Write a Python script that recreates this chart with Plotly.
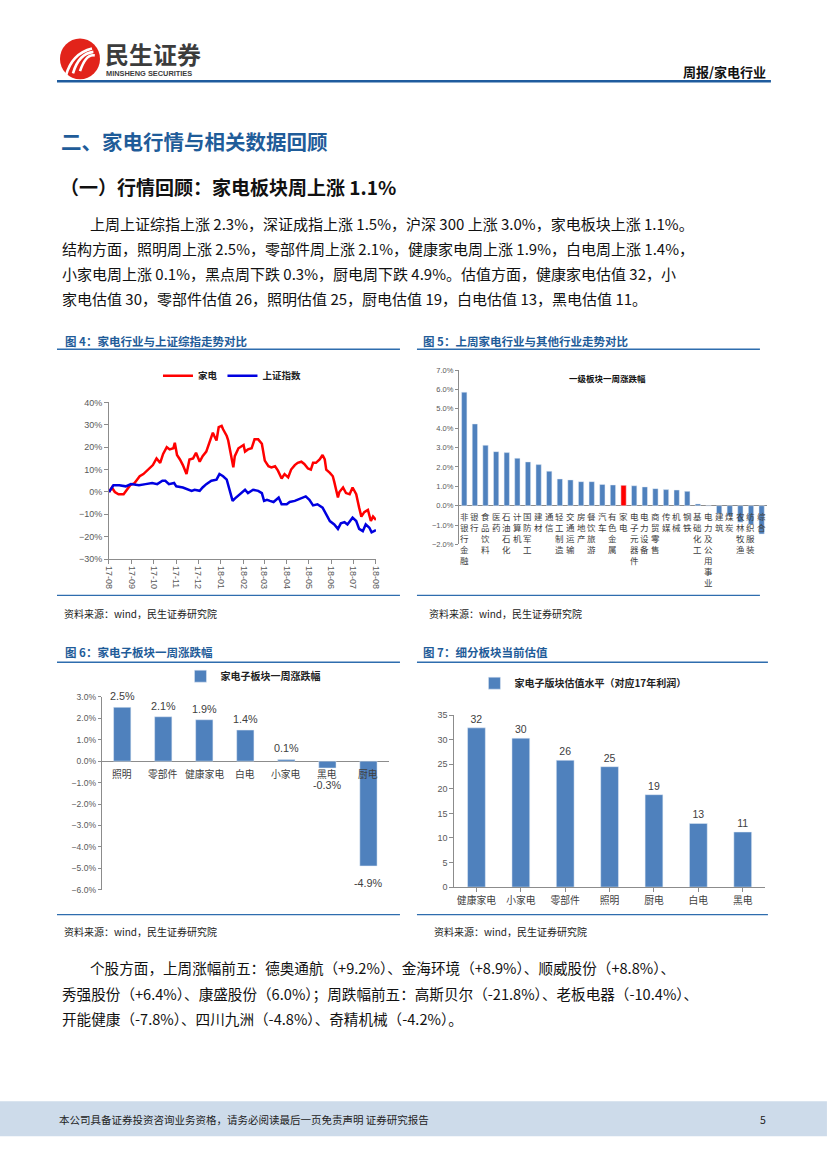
import plotly.graph_objects as go

W, H = 827, 1169
# small correction so that page coordinates of the reference land at the same pixels
OX, SX, OY, SY = 5.0, 0.988, 3.5, 0.9934
def fx(x): return (x - OX) / SX / W
def fy(y): return 1 - (y - OY) / SY / H

CJK = "Noto Sans CJK SC"
BLUE_T = "#1F5C99"
BAR = "#4F81BD"
GRAY = "#595959"
AXC = "#8C8C8C"

# ---------------- data ----------------
# Fig 4: 家电 vs 上证指数 (cumulative %)
jd_dates = ["2017-08-01","2017-08-05","2017-08-09","2017-08-14","2017-08-21","2017-08-25","2017-08-30",
            "2017-09-05","2017-09-12","2017-09-17","2017-09-24","2017-09-30","2017-10-05","2017-10-10",
            "2017-10-14","2017-10-19","2017-10-23","2017-10-28","2017-10-30","2017-11-02","2017-11-06",
            "2017-11-10","2017-11-15","2017-11-19","2017-11-24","2017-11-28","2017-12-03","2017-12-07",
            "2017-12-12","2017-12-16","2017-12-21","2017-12-23","2017-12-26","2017-12-29","2018-01-02",
            "2018-01-04","2018-01-09","2018-01-11","2018-01-13","2018-01-16","2018-01-18","2018-01-20",
            "2018-01-25","2018-02-01","2018-02-03","2018-02-07","2018-02-12","2018-02-16","2018-02-21",
            "2018-02-26","2018-02-28","2018-03-02","2018-03-07","2018-03-11","2018-03-16","2018-03-20",
            "2018-03-25","2018-03-29","2018-04-03","2018-04-07","2018-04-12","2018-04-16","2018-04-21",
            "2018-04-25","2018-04-30","2018-05-04","2018-05-07","2018-05-11","2018-05-16","2018-05-20",
            "2018-05-23","2018-05-25","2018-05-30","2018-06-03","2018-06-05","2018-06-10","2018-06-12",
            "2018-06-17","2018-06-21","2018-06-26","2018-06-30","2018-07-05","2018-07-09","2018-07-12",
            "2018-07-16","2018-07-21","2018-07-25","2018-07-28","2018-08-01"]
jd_vals = [0, 2, 0, -1, -1, 1, 3,
           4, 7, 8, 10, 12, 15, 13,
           17, 20, 19, 19.5, 22, 16.5, 14.5,
           12, 8, 14.5, 15, 17.5, 13.5, 16,
           18, 21.5, 26.5, 25, 23, 29, 29.5,
           28, 25, 23, 19, 13, 11, 16,
           19.5, 21, 18, 19, 19.5, 23.5, 23.5,
           21.5, 17.5, 14, 11.5, 11, 11.5, 9.5,
           6, 8, 6.5, 10, 12, 13, 13.5,
           12.5, 10.5, 10, 13, 13, 14.5, 16.5,
           14.5, 10, 8.5, 7, 4.5, -2.5, 0,
           2, -0.5, -1, 2, -1, -7, -11,
           -9, -8, -13, -11, -12.5]

sh_dates = ["2017-08-01","2017-08-07","2017-08-15","2017-08-24","2017-08-31","2017-09-11","2017-09-20",
            "2017-09-29","2017-10-06","2017-10-13","2017-10-17","2017-10-22","2017-10-29","2017-11-01",
            "2017-11-10","2017-11-17","2017-11-22","2017-11-26","2017-12-03","2017-12-07","2017-12-12",
            "2017-12-19","2017-12-26","2017-12-30","2018-01-04","2018-01-09","2018-01-13","2018-01-17",
            "2018-01-20","2018-01-27","2018-02-03","2018-02-07","2018-02-14","2018-02-21","2018-02-26",
            "2018-03-01","2018-03-05","2018-03-09","2018-03-14","2018-03-21","2018-03-25","2018-04-01",
            "2018-04-05","2018-04-12","2018-04-16","2018-04-23","2018-04-27","2018-05-02","2018-05-07",
            "2018-05-13","2018-05-20","2018-05-25","2018-05-30","2018-06-05","2018-06-10","2018-06-14",
            "2018-06-19","2018-06-23","2018-06-30","2018-07-05","2018-07-09","2018-07-14","2018-07-18",
            "2018-07-23","2018-07-26","2018-08-01"]
sh_vals = [0, 3, 3, 2.5, 3.5, 3, 3.5,
           4, 3.5, 5, 5, 3.5, 4, 2.5,
           2, 1, 0.5, 1, 0.5, 2, 3.5,
           5, 5.5, 8, 7, 5.5, 1, -4,
           -3, -1, 1, -0.5, 1, 0.5, -0.5,
           -4, -3.5, -4, -4.5, -2.5, -5.5, -5.5,
           -4.5, -4, -3.5, -2.5, -2, -3.5, -6,
           -5.5, -7, -10, -13, -14.5, -16.5, -14,
           -13.5, -14.5, -11.5, -13, -16.5, -17.5, -14.5,
           -16, -18, -17]

# Fig 5: 一级板块一周涨跌幅 (%)
ind_names = ["非银行金融","银行","食品饮料","医药","石油石化","计算机","国防军工","建材","通信",
             "轻工制造","交通运输","房地产","餐饮旅游","汽车","有色金属","家电","电子元器件",
             "电力设备","商贸零售","传媒","机械","钢铁","基础化工","电力及公用事业","建筑","煤炭",
             "农林牧渔","纺织服装","综合"]
ind_vals = [5.86, 4.22, 3.12, 2.79, 2.74, 2.45, 2.26, 2.12, 1.78,
            1.38, 1.33, 1.24, 1.24, 1.10, 1.07, 1.05, 1.03,
            0.97, 0.88, 0.83, 0.81, 0.74, 0.09, -0.02, -0.40, -0.52,
            -0.85, -0.97, -1.46]
highlight = "家电"

# Fig 6: 家电子板块一周涨跌幅 (%)
sub_names = ["照明","零部件","健康家电","白电","小家电","黑电","厨电"]
sub_chg = [2.51, 2.07, 1.93, 1.45, 0.08, -0.32, -4.89]
sub_chg_labels = ["2.5%","2.1%","1.9%","1.4%","0.1%","-0.3%","-4.9%"]

# Fig 7: 家电子版块估值水平
val_names = ["健康家电","小家电","零部件","照明","厨电","白电","黑电"]
val_pe = [32.4, 30.3, 25.8, 24.5, 18.8, 12.95, 11.2]
val_labels = ["32","30","26","25","19","13","11"]

# ---------------- figure ----------------
fig = go.Figure()

fig.add_trace(go.Scatter(x=jd_dates, y=jd_vals, mode="lines", name="<b>家电</b>",
                         line=dict(color="#FF0000", width=2.5), xaxis="x", yaxis="y", legend="legend"))
fig.add_trace(go.Scatter(x=sh_dates, y=sh_vals, mode="lines", name="<b>上证指数</b>",
                         line=dict(color="#0000E0", width=2.5), xaxis="x", yaxis="y", legend="legend"))

fig.add_trace(go.Bar(x=ind_names, y=ind_vals, xaxis="x2", yaxis="y2", showlegend=False,
                     marker=dict(color=["#FF0000" if n == highlight else BAR for n in ind_names]),
                     width=0.5))

fig.add_trace(go.Bar(x=sub_names, y=sub_chg, xaxis="x3", yaxis="y3", name="<b>家电子板块一周涨跌幅</b>",
                     marker=dict(color=BAR), width=0.42, legend="legend2"))

fig.add_trace(go.Bar(x=val_names, y=val_pe, xaxis="x4", yaxis="y4",
                     name="<b>家电子版块估值水平（对应17年利润）</b>",
                     marker=dict(color=BAR), width=0.4, text=val_labels, textposition="outside",
                     constraintext="none",
                     textfont=dict(size=10.5, color="#404040", family="Liberation Sans"),
                     cliponaxis=False, legend="legend3"))

ax_common = dict(showline=True, linecolor=AXC, linewidth=1, ticks="outside", tickcolor=AXC,
                 ticklen=4, showgrid=False, zeroline=False)

fig.update_layout(
    width=W, height=H, margin=dict(l=0, r=0, t=0, b=0),
    paper_bgcolor="white", plot_bgcolor="rgba(0,0,0,0)",
    font=dict(family=CJK, color=GRAY),
    bargap=0.5,
    xaxis=dict(domain=[fx(109), fx(376)], anchor="y", type="date",
               range=["2017-08-01", "2018-08-01"], dtick="M1", tick0="2017-08-01",
               tickformat="%y-%m", tickangle=90,
               tickfont=dict(size=9, family="Liberation Sans", color=GRAY), **ax_common),
    yaxis=dict(domain=[fy(558.7), fy(401.7)], anchor="x", range=[-30, 40], dtick=10,
               ticksuffix="%", tickfont=dict(size=9, family="Liberation Sans", color=GRAY), **ax_common),
    xaxis2=dict(domain=[fx(459), fx(767)], anchor="y2", type="category", range=[-0.5, 28.5],
                showticklabels=False, showline=False, showgrid=False, zeroline=False, ticks=""),
    yaxis2=dict(domain=[fy(544), fy(369.3)], anchor="x2", range=[-2, 7], dtick=1, tickformat=".1f",
                ticksuffix="%", showline=True, linecolor=AXC, ticks="outside", tickcolor=AXC, ticklen=3,
                showgrid=False, zeroline=True, zerolinecolor=AXC, zerolinewidth=1,
                tickfont=dict(size=7.5, family="Liberation Sans", color=GRAY)),
    xaxis3=dict(domain=[fx(101.7), fx(389)], anchor="y3", type="category", range=[-0.5, 6.5],
                showticklabels=False, showline=False, showgrid=False, zeroline=False, ticks=""),
    yaxis3=dict(domain=[fy(890), fy(696.7)], anchor="x3", range=[-6, 3], dtick=1, tickformat=".1f",
                ticksuffix="%", showline=True, linecolor=AXC, ticks="outside", tickcolor=AXC, ticklen=3,
                showgrid=False, zeroline=True, zerolinecolor=AXC, zerolinewidth=1,
                tickfont=dict(size=8.5, family="Liberation Sans", color=GRAY)),
    xaxis4=dict(domain=[fx(454.3), fx(765)], anchor="y4", type="category", range=[-0.5, 6.5],
                tickfont=dict(size=9.8, family=CJK, color="#404040"), **ax_common),
    yaxis4=dict(domain=[fy(887.3), fy(715)], anchor="x4", range=[0, 35], dtick=5,
                tickfont=dict(size=9, family="Liberation Sans", color=GRAY), **ax_common),
    legend=dict(orientation="h", x=fx(232), xanchor="center", y=fy(375), yanchor="middle",
                font=dict(size=9.5, color="#222222", family=CJK), bgcolor="rgba(0,0,0,0)",
                itemwidth=30),
    legend2=dict(orientation="h", x=fx(253), xanchor="center", y=fy(676), yanchor="middle",
                 font=dict(size=10, color="#222222", family=CJK), bgcolor="rgba(0,0,0,0)"),
    legend3=dict(orientation="h", x=fx(583), xanchor="center", y=fy(683), yanchor="middle",
                 font=dict(size=10, color="#222222", family=CJK), bgcolor="rgba(0,0,0,0)"),
)

ann = []
shapes = []

def text(x, y, s, size, color="#222222", bold=False, anchor="left", family=CJK):
    ann.append(dict(x=fx(x), y=fy(y), xref="paper", yref="paper", text=(f"<b>{s}</b>" if bold else s),
                    showarrow=False, xanchor=anchor, yanchor="middle",
                    font=dict(size=size, color=color, family=family)))

def hline(x0, x1, y, color, width):
    shapes.append(dict(type="line", xref="paper", yref="paper", x0=fx(x0), x1=fx(x1),
                       y0=fy(y), y1=fy(y), line=dict(color=color, width=width)))

# header
shapes.append(dict(type="circle", xref="paper", yref="paper", x0=fx(60), x1=fx(100),
                   y0=fy(78), y1=fy(37), fillcolor="#E2231A", line=dict(width=0)))
for dx in (0, 7, 14):
    shapes.append(dict(type="path", xref="paper", yref="paper",
                       path=f"M {fx(66+dx)} {fy(74-dx*0.3)} Q {fx(72+dx)} {fy(52)} {fx(92+dx*0.2)} {fy(47+dx*0.5)}",
                       line=dict(color="white", width=2.6)))
text(103, 52, "民生证券", 24, "#3C3C3C", bold=True)
text(104, 72, "MINSHENG SECURITIES", 7.4, "#3C3C3C", bold=True, family="Liberation Sans")
text(768, 70, "周报/家电行业", 13, "#111111", bold=True, anchor="right")
hline(57, 771, 80, "#1F5C9E", 2.5)

# section titles
text(59, 140, "二、家电行情与相关数据回顾", 20.5, BLUE_T, bold=True)
text(58, 185, "（一）行情回顾：家电板块周上涨 1.1%", 19, "#111111", bold=True)

para1 = ["上周上证综指上涨 2.3%，深证成指上涨 1.5%，沪深 300 上涨 3.0%，家电板块上涨 1.1%。",
         "结构方面，照明周上涨 2.5%，零部件周上涨 2.1%，健康家电周上涨 1.9%，白电周上涨 1.4%，",
         "小家电周上涨 0.1%，黑点周下跌 0.3%，厨电周下跌 4.9%。估值方面，健康家电估值 32，小",
         "家电估值 30，零部件估值 26，照明估值 25，厨电估值 19，白电估值 13，黑电估值 11。"]
for i, line in enumerate(para1):
    text(88 if i == 0 else 60, 222 + i * 25.3, line, 15.0, "#111111")

# figure titles and rules
text(63, 340, "图 4：家电行业与上证综指走势对比", 11.5, BLUE_T, bold=True)
text(421, 340, "图 5：上周家电行业与其他行业走势对比", 11.5, BLUE_T, bold=True)
text(63, 652, "图 6：家电子板块一周涨跌幅", 11.5, BLUE_T, bold=True)
text(421, 652, "图 7：细分板块当前估值", 11.5, BLUE_T, bold=True)
hline(57, 400, 348.5, "#2E6DAE", 1.6)
hline(417, 760, 348.5, "#2E6DAE", 1.6)
hline(57, 400, 662, "#2E6DAE", 1.6)
hline(417, 768, 662, "#2E6DAE", 1.6)
hline(57, 400, 595, "#2E6DAE", 1.2)
hline(417, 760, 595, "#2E6DAE", 1.2)
hline(57, 400, 915, "#2E6DAE", 1.2)
hline(417, 768, 915, "#2E6DAE", 1.2)
for (sx, sy) in [(62, 613), (427, 613), (62, 932), (432, 932)]:
    text(sx, sy, "资料来源：wind，民生证券研究院", 10, "#222222")

# chart 5 title
text(608, 377, "一级板块一周涨跌幅", 8.5, "#111111", bold=True, anchor="center")

# chart 5 vertical category labels
for n in ind_names:
    ann.append(dict(x=n, y=0, xref="x2", yref="y2", text="<br>".join(list(n)), showarrow=False,
                    xanchor="center", yanchor="top", yshift=-2,
                    font=dict(size=8.5, color="#404040", family=CJK)))
# chart 6 category labels along zero line + value labels
for n in sub_names:
    ann.append(dict(x=n, y=0, xref="x3", yref="y3", text=n, showarrow=False,
                    xanchor="center", yanchor="top", yshift=-4,
                    font=dict(size=9.8, color="#404040", family=CJK)))
for n, v, lab in zip(sub_names, sub_chg, sub_chg_labels):
    ann.append(dict(x=n, y=v, xref="x3", yref="y3", text=lab, showarrow=False,
                    xanchor="center", yanchor=("bottom" if v >= 0 else "top"),
                    yshift=(3 if v >= 0 else -9),
                    font=dict(size=10.8, color="#404040", family="Liberation Sans")))

# second paragraph
para2 = ["个股方面，上周涨幅前五：德奥通航（+9.2%）、金海环境（+8.9%）、顺威股份（+8.8%）、",
         "秀强股份（+6.4%）、康盛股份（6.0%）；周跌幅前五：高斯贝尔（-21.8%）、老板电器（-10.4%）、",
         "开能健康（-7.8%）、四川九洲（-4.8%）、奇精机械（-4.2%）。"]
for i, line in enumerate(para2):
    text(88 if i == 0 else 60, 968 + i * 25.5, line, 14.6, "#111111")

# footer
shapes.append(dict(type="rect", xref="paper", yref="paper", x0=fx(0), x1=fx(827), y0=fy(1137), y1=fy(1102),
                   fillcolor="#CDDBEA", line=dict(width=0), layer="below"))
text(57, 1120, "本公司具备证券投资咨询业务资格，请务必阅读最后一页免责声明 证券研究报告", 10.5, "#222222")
text(768, 1120, "5", 10.5, "#222222", anchor="right")

fig.update_layout(annotations=ann, shapes=shapes)
fig.write_html("out.html", config={"displayModeBar": False},
               post_script=("document.documentElement.style.margin='0';document.documentElement.style.padding='0';"
                            "document.documentElement.style.overflow='hidden';"
                            "document.body.style.margin='0';document.body.style.padding='0';"
                            "document.body.style.overflow='hidden';"))
